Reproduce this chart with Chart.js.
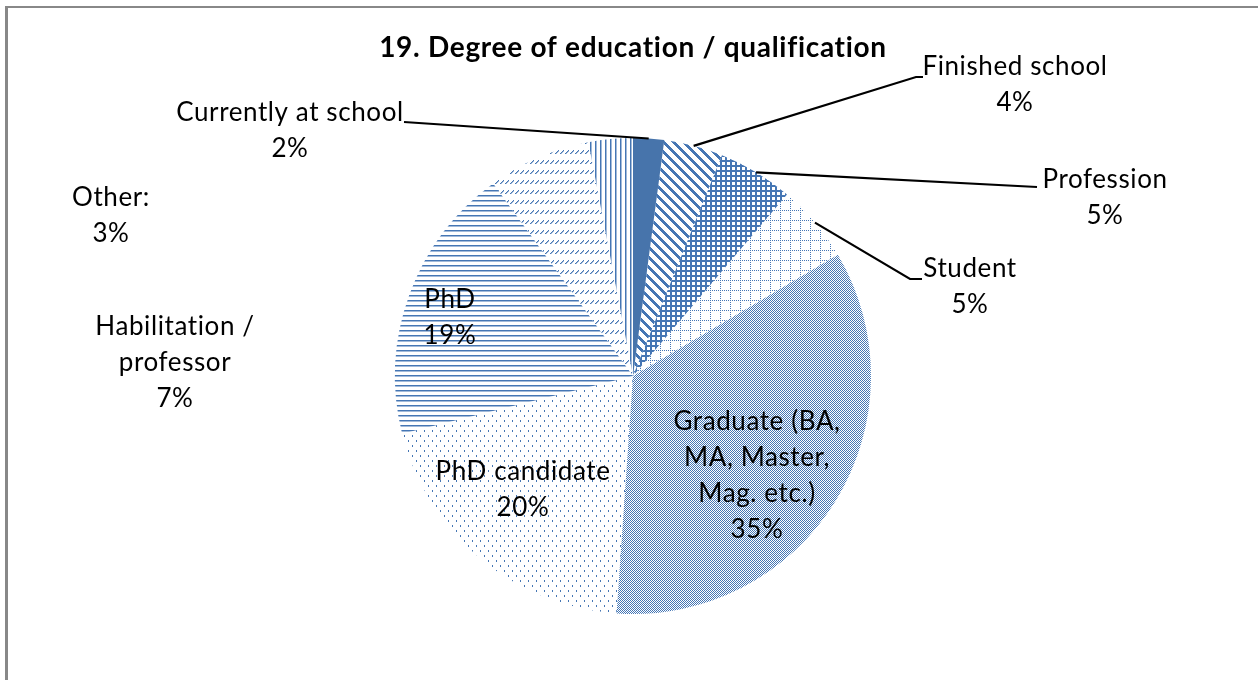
<!DOCTYPE html>
<html>
<head>
<meta charset="utf-8">
<script src="https://cdn.jsdelivr.net/npm/chart.js@4.4.1/dist/chart.umd.min.js"></script>
<style>
  html, body { margin:0; padding:0; background:#fff; }
  #wrap { width:1258px; height:680px; position:relative; }
</style>
</head>
<body>
<div id="wrap"><canvas id="chart" width="1258" height="680"></canvas></div>
<script>
// data
const categories = ['Currently at school','Finished school','Profession','Student','Graduate (BA, MA, Master, Mag. etc.)','PhD candidate','PhD','Habilitation / professor','Other:'];
const shares = [2.1, 4.0, 5.1, 5.3, 34.6, 20.0, 18.9, 7.0, 3.0];
const labelLines = [['Currently at school'],['Finished school'],['Profession'],['Student'],['Graduate (BA,','MA, Master,','Mag. etc.)'],['PhD candidate'],['PhD'],['Habilitation /','professor'],['Other:']];
const chartTitle = '19. Degree of education / qualification';

// where each label sits (x = centre, y = first line) and the elbow of its leader line
const labelAt = [
  { x:290,  y:113, lead:[[404,122]] },
  { x:1015, y:67,  lead:[[923,77],[916,77]] },
  { x:1105, y:180, lead:[[1037,187]] },
  { x:970,  y:269, lead:[[922,279],[910,279]] },
  { x:757,  y:422 },
  { x:523,  y:472 },
  { x:450,  y:300 },
  { x:175,  y:327 },
  { x:111,  y:198 }
];

const BLUE = '#4576b4';
function tile(w, h, draw) {
  const c = document.createElement('canvas'); c.width = w; c.height = h;
  const g = c.getContext('2d'); g.fillStyle = BLUE; g.strokeStyle = BLUE; draw(g);
  return g.createPattern(c, 'repeat');
}
const fills = [
  '#4774ab',
  tile(10,10, g => { for (let y=0;y<10;y++) for (let x=0;x<10;x++) if (((x-y)%10+10)%10 < 4) g.fillRect(x,y,1,1); }),
  tile(5,5, g => { g.fillRect(0,0,5,2); g.fillRect(0,0,2,5); }),
  tile(10,10, g => { for (let i=0;i<10;i+=2) { g.fillRect(i,0,1,1); g.fillRect(0,i,1,1); } }),
  tile(2,2, g => { g.fillRect(0,0,1,1); g.fillRect(1,1,1,1); }),
  tile(8,10, g => { g.fillRect(0,0,1,2); g.fillRect(4,5,1,2); }),
  tile(4,5, g => { g.fillRect(0,0,4,1); g.globalAlpha=.5; g.fillRect(0,1,4,1); }),
  tile(5,10, g => { g.fillRect(0,3,1,1); g.fillRect(1,2,1,1); g.fillRect(2,1,1,1); g.fillRect(3,0,1,1); g.globalAlpha=.5; g.fillRect(1,3,1,1); g.fillRect(2,2,1,1); g.fillRect(3,1,1,1); }),
  tile(5,1, g => { g.fillRect(0,0,1,1); g.globalAlpha=.5; g.fillRect(1,0,1,1); })
];

const FONT = 'Lato, "Open Sans", sans-serif';
const decor = {
  id:'decor',
  afterDraw(chart) {
    const ctx = chart.ctx, meta = chart.getDatasetMeta(0);
    const total = shares.reduce((a,b)=>a+b,0);
    ctx.save();
    // frame (top and left edge only)
    ctx.fillStyle = '#888';
    ctx.fillRect(5,6,1253,2);
    ctx.fillRect(5,6,3,674);
    // title
    ctx.fillStyle = '#000';
    ctx.font = 'bold 28px ' + FONT;
    ctx.letterSpacing = '0.7px';
    ctx.textAlign = 'center'; ctx.textBaseline = 'middle';
    ctx.fillText(chartTitle, 633, 48);
    // leader lines
    ctx.strokeStyle = '#000'; ctx.lineWidth = 2.2;
    meta.data.forEach((arc, i) => {
      const L = labelAt[i];
      if (!L.lead) return;
      const p = arc.getProps(['x','y','startAngle','endAngle','outerRadius'], true);
      const a = (p.startAngle + p.endAngle) / 2;
      ctx.beginPath();
      L.lead.forEach((pt, k) => k ? ctx.lineTo(pt[0], pt[1]) : ctx.moveTo(pt[0], pt[1]));
      ctx.lineTo(p.x + Math.cos(a) * p.outerRadius, p.y + Math.sin(a) * p.outerRadius);
      ctx.stroke();
    });
    // labels
    ctx.font = '26px ' + FONT;
    ctx.letterSpacing = '0.6px';
    labelLines.forEach((lines, i) => {
      const L = labelAt[i];
      const all = lines.concat([Math.round(shares[i] / total * 100) + '%']);
      all.forEach((t, k) => ctx.fillText(t, L.x, L.y + k * 36));
    });
    ctx.restore();
  }
};

new Chart(document.getElementById('chart'), {
  type:'pie',
  data:{ labels:categories, datasets:[{ data:shares, backgroundColor:fills, borderWidth:0 }] },
  options:{
    responsive:false, animation:false, devicePixelRatio:1,
    layout:{ padding:{ left:395, right:387, top:138, bottom:66 } },
    plugins:{ legend:{ display:false }, tooltip:{ enabled:false }, title:{ display:false } }
  },
  plugins:[decor]
});
</script>
</body>
</html>
